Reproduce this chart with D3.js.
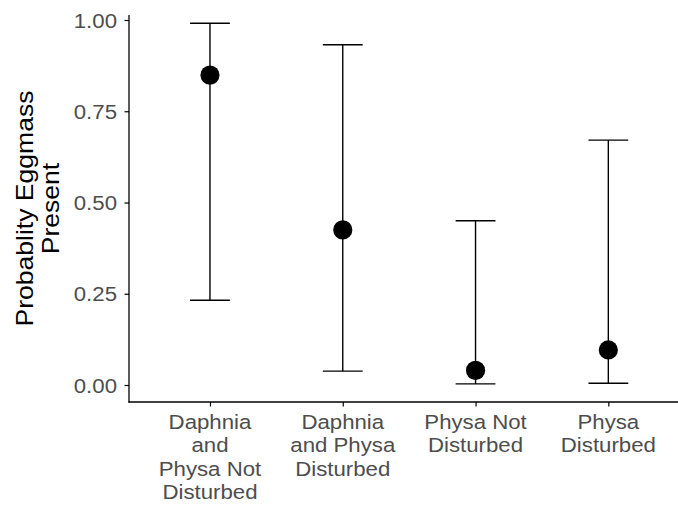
<!DOCTYPE html>
<html>
<head>
<meta charset="utf-8">
<script src="https://cdn.jsdelivr.net/npm/d3@7"></script>
<style>
  html, body { margin: 0; padding: 0; background: #fff; }
  svg { display: block; font-family: "Liberation Sans", Arial, Helvetica, sans-serif; }
</style>
</head>
<body>
<svg id="chart" width="678" height="510"></svg>
<script>
// Treatment groups (multi-line axis labels)
const categories = [
  "Daphnia and Physa Not Disturbed",
  "Daphnia and Physa Disturbed",
  "Physa Not Disturbed",
  "Physa Disturbed"
];
const categoryLines = [
  ["Daphnia", "and", "Physa Not", "Disturbed"],
  ["Daphnia", "and Physa", "Disturbed"],
  ["Physa Not", "Disturbed"],
  ["Physa", "Disturbed"]
];
// Estimated probability and its confidence interval
const estimate = [0.849, 0.425, 0.040, 0.096];
const lower    = [0.232, 0.038, 0.003, 0.005];
const upper    = [0.991, 0.932, 0.450, 0.671];
const yTicks   = [0, 0.25, 0.5, 0.75, 1.0];

const data = categories.map((c, i) => ({
  cat: c, lines: categoryLines[i], est: estimate[i], lo: lower[i], hi: upper[i]
}));

const svg = d3.select("#chart");
const stretch = 1.14;           // horizontal text widening
const tickColor = "#4D4D4D";

const panel = { left: 129, right: 688, top: 15, bottom: 402 };

const y = d3.scaleLinear().domain([0, 1]).range([385, 20]);
const x = d3.scalePoint().domain(categories).range([130.3, 688]).padding(0.6);
const capHalf = x.step() * 0.15;

// error bars
const eb = svg.append("g").attr("stroke", "#000").attr("stroke-width", 1.4).attr("fill", "none");
eb.selectAll("line.v").data(data).join("line").attr("class", "v")
  .attr("x1", d => x(d.cat)).attr("x2", d => x(d.cat))
  .attr("y1", d => y(d.lo)).attr("y2", d => y(d.hi));
eb.selectAll("line.t").data(data).join("line").attr("class", "t")
  .attr("x1", d => x(d.cat) - capHalf).attr("x2", d => x(d.cat) + capHalf)
  .attr("y1", d => y(d.hi)).attr("y2", d => y(d.hi));
eb.selectAll("line.b").data(data).join("line").attr("class", "b")
  .attr("x1", d => x(d.cat) - capHalf).attr("x2", d => x(d.cat) + capHalf)
  .attr("y1", d => y(d.lo)).attr("y2", d => y(d.lo));

// points
svg.append("g").selectAll("circle").data(data).join("circle")
  .attr("cx", d => x(d.cat)).attr("cy", d => y(d.est)).attr("r", 9.6).attr("fill", "#000");

// y axis
const yAxis = svg.append("g").attr("transform", `translate(${panel.left},0)`)
  .call(d3.axisLeft(y).tickValues(yTicks).tickFormat(d3.format(".2f")).tickSize(4.5).tickPadding(0));
yAxis.select(".domain").remove();
yAxis.selectAll(".tick line").attr("stroke", "#000").attr("stroke-width", 1.2);
yAxis.selectAll(".tick text")
  .attr("x", 0).attr("dy", "0.36em")
  .attr("transform", `translate(-12,0) scale(${stretch},1)`)
  .attr("fill", tickColor).style("font-size", "19.5px");
svg.append("line").attr("x1", panel.left).attr("x2", panel.left)
  .attr("y1", panel.top).attr("y2", panel.bottom + 0.6)
  .attr("stroke", "#000").attr("stroke-width", 1.3);

// x axis
const xAxis = svg.append("g").attr("transform", `translate(0,${panel.bottom})`)
  .call(d3.axisBottom(x).tickSize(4.5).tickFormat(""));
xAxis.select(".domain").remove();
xAxis.selectAll(".tick line").attr("stroke", "#000").attr("stroke-width", 1.2);
svg.append("line").attr("x1", panel.left - 0.6).attr("x2", panel.right)
  .attr("y1", panel.bottom).attr("y2", panel.bottom)
  .attr("stroke", "#000").attr("stroke-width", 1.3);

const xl = svg.append("g").selectAll("g").data(data).join("g")
  .attr("transform", d => `translate(${x(d.cat)},0)`);
xl.each(function(d) {
  const g = d3.select(this);
  d.lines.forEach((t, i) => {
    g.append("text")
      .attr("transform", `translate(0,${429 + i * 23.4}) scale(${stretch},1)`)
      .attr("text-anchor", "middle")
      .attr("fill", tickColor).style("font-size", "19.5px")
      .text(t);
  });
});

// y axis title
const titleLines = ["Probablity Eggmass", "Present"];
const titleY = (panel.top + panel.bottom) / 2;
titleLines.forEach((t, i) => {
  svg.append("text")
    .attr("transform", `translate(${33 + i * 25.5},${titleY}) rotate(-90) scale(1.155,1)`)
    .attr("text-anchor", "middle")
    .attr("fill", "#000").style("font-size", "23px")
    .text(t);
});
</script>
</body>
</html>
